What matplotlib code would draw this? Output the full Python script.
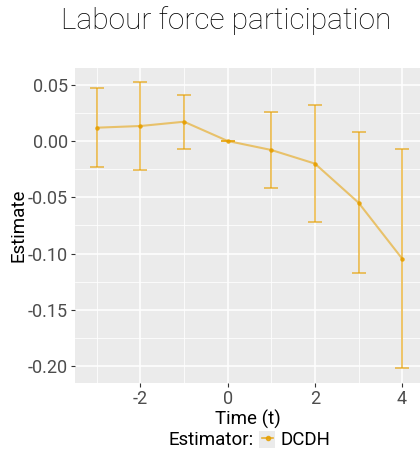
import matplotlib
matplotlib.use("Agg")
import matplotlib.pyplot as plt
from matplotlib.lines import Line2D
import numpy as np

plt.rcParams['font.family'] = ['Roboto', 'DejaVu Sans']
plt.rcParams['axes.unicode_minus'] = False

time = [-3, -2, -1, 0, 1, 2, 3, 4]
estimate = [0.0118, 0.0133, 0.0171, 0.0, -0.0080, -0.0201, -0.0548, -0.1045]
ci_upper = [0.0473, 0.0524, 0.0411, 0.0, 0.0260, 0.0317, 0.0083, -0.0074]
ci_lower = [-0.0234, -0.0258, -0.0074, 0.0, -0.0420, -0.0722, -0.1170, -0.2016]
x_ticks = [-2, 0, 2, 4]
y_ticks = [0.05, 0.00, -0.05, -0.10, -0.15, -0.20]
y_tick_labels = ["0.05", "0.00", "-0.05", "-0.10", "-0.15", "-0.20"]
title = "Labour force participation"
series_name = "DCDH"

color = "#E69F00"
fig = plt.figure(figsize=(4.2, 4.55), dpi=100)
ax = fig.add_axes([0.1786, 0.1582, 0.8214, 0.6923])
ax.set_facecolor("#EBEBEB")
for s in ax.spines.values():
    s.set_visible(False)

t = np.array(time)
est = np.array(estimate)
yerr = np.vstack([est - np.array(ci_lower), np.array(ci_upper) - est])
ax.errorbar(t, est, yerr=yerr, fmt='none', ecolor=color, alpha=0.75,
            elinewidth=1.1, capsize=4.7, capthick=1.1, zorder=3)
ax.plot(t, est, color=color, alpha=0.55, lw=1.5, zorder=4)
ax.plot(t, est, 'o', color=color, ms=3.2, zorder=5, alpha=0.9, mec='none')

ax.set_xlim(-3.5, 4.41)
ax.set_ylim(-0.215, 0.0648)
ax.set_xticks(x_ticks)
ax.set_xticks([-3, -1, 1, 3], minor=True)
ax.set_yticks(y_ticks)
ax.set_yticklabels(y_tick_labels)
ax.set_yticks([0.025, -0.025, -0.075, -0.125, -0.175], minor=True)
ax.grid(True, which='major', color='white', lw=1.1)
ax.grid(True, which='minor', color='white', lw=0.55)
ax.set_axisbelow(True)
ax.tick_params(which='major', length=3, width=0.8, color='#333333',
               labelsize=13, labelcolor='#4D4D4D', pad=2)
ax.tick_params(which='minor', length=0)

ax.set_xlabel("Time (t)", fontsize=13.5, color='black', labelpad=1)
ax.set_ylabel("Estimate", fontsize=13.5, color='black', labelpad=0.5)

fig.text(0.539, 0.955, title, ha='center', va='center', fontsize=21.5,
         fontweight='light', color='black')

fig.text(0.40, 0.033, "Estimator:", ha='left', va='center', fontsize=13.5)
handle = Line2D([], [], color=color, marker='o', ms=3, lw=1.2, alpha=0.8)
leg = fig.legend([handle], [series_name], loc='center left',
                 bbox_to_anchor=(0.624, 0.033), frameon=False, fontsize=13.5,
                 handlelength=0.6, handletextpad=0.37, borderaxespad=0,
                 borderpad=0)
fig.patches.append(plt.Rectangle((0.617, 0.015), 0.038, 0.037,
                                 transform=fig.transFigure,
                                 facecolor='#EBEBEB', edgecolor='none',
                                 zorder=0))

fig.savefig("out.png", dpi=100)
